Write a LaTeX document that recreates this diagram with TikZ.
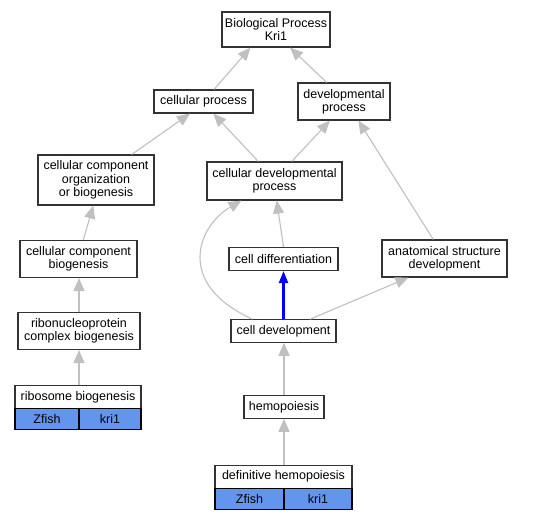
\documentclass[tikz,border=0pt]{standalone}
\usepackage{fontspec}
\setmainfont{Liberation Sans}
\usetikzlibrary{arrows.meta,calc}
\definecolor{edgegray}{HTML}{C0C0C0}
\definecolor{genefill}{HTML}{6495ED}
\definecolor{edgeblue}{HTML}{0000FF}
\tikzset{
  term/.style={draw=black!80, line width=1.1pt, fill=white, inner sep=0pt, align=center,
    font=\fontsize{12.5}{13.4}\selectfont},
  gene/.style={draw=black, line width=1.1pt, fill=genefill, inner sep=0pt,
    font=\fontsize{12.5}{13.4}\selectfont},
  isa/.style={color=edgegray, line width=1.1pt,
    -{Triangle[length=13pt,width=11pt]}},
  blueedge/.style={color=edgeblue, line width=2.2pt,
    -{Triangle[length=12pt,width=9pt]}},
}
\begin{document}
\begin{tikzpicture}[x=1pt,y=-1pt]
\useasboundingbox (0,0) rectangle (537,520);
\fill[white] (0,0) rectangle (537,520);
% terms
\node[term, minimum width=108pt, minimum height=35pt] (bp) at (276,29.5) {Biological Process\\Kri1};
\node[term, minimum width=99pt, minimum height=23pt] (cp) at (203.5,101.5) {cellular process};
\node[term, minimum width=92pt, minimum height=37pt] (dp) at (344,101.5) {developmental\\process};
\node[term, minimum width=116pt, minimum height=50pt] (cco) at (96,180) {cellular component\\organization\\or biogenesis};
\node[term, minimum width=135pt, minimum height=38pt] (cdp) at (274.5,181) {cellular developmental\\process};
\node[term, minimum width=117pt, minimum height=37pt] (ccb) at (78.5,259) {cellular component\\biogenesis};
\node[term, minimum width=109pt, minimum height=23pt] (cdiff) at (283.5,259) {cell differentiation};
\node[term, minimum width=125pt, minimum height=37pt] (asd) at (444.5,258.5) {anatomical structure\\development};
\node[term, minimum width=122pt, minimum height=37pt] (rnp) at (79,331) {ribonucleoprotein\\complex biogenesis};
\node[term, minimum width=105pt, minimum height=22.5pt] (cdev) at (283.5,331) {cell development};
\node[term, minimum width=80pt, minimum height=22.5pt] (hem) at (284,407) {hemopoiesis};
% gene tables
\node[term, minimum width=126pt, minimum height=23.5pt] (rb) at (78,396.8) {ribosome biogenesis};
\node[gene, minimum width=64pt, minimum height=20.5pt] (rbz) at (47,418.8) {Zfish};
\node[gene, minimum width=62pt, minimum height=20.5pt] (rbk) at (110,418.8) {kri1};
\node[term, minimum width=137pt, minimum height=23.3pt] (dh) at (283.5,476.7) {definitive hemopoiesis};
\node[gene, minimum width=69pt, minimum height=20.7pt] (dhz) at (249.5,498.7) {Zfish};
\node[gene, minimum width=68pt, minimum height=20.7pt] (dhk) at (318,498.7) {kri1};
% edges
\draw[isa] ($(cp.north)+(10.5,0)$) -- ($(bp.south)+(-25.5,0)$);
\draw[isa] ($(dp.north)+(-17.3,0)$) -- ($(bp.south)+(14,0)$);
\draw[isa] ($(cco.north)+(35.7,0)$) -- ($(cp.south)+(-13.5,0)$);
\draw[isa] ($(cdp.north)+(-16.2,0)$) -- ($(cp.south)+(9.8,0)$);
\draw[isa] ($(cdp.north)+(17.2,0)$) -- ($(dp.south)+(-14,0)$);
\draw[isa] ($(asd.north)+(-11.2,0)$) -- ($(dp.south)+(14.3,0)$);
\draw[isa] ($(ccb.north)+(4.8,0)$) -- ($(cco.south)+(-2.7,0)$);
\draw[isa] (cdiff.north) -- ($(cdp.south)+(2.2,0)$);
\draw[isa] ($(cdev.north)+(-31,0)$) .. controls (215,302) and (200,280) .. (200,257)
   .. controls (200,235) and (215,216) .. ($(cdp.south)+(-33,0)$);
\draw[blueedge] (cdev.north) -- (cdiff.south);
\draw[isa] ($(cdev.north)+(26.5,0)$) -- ($(asd.south)+(-36,0)$);
\draw[isa] (rnp.north) -- (ccb.south -| rnp.north);
\draw[isa] (rb.north -| rnp.south) -- (rnp.south);
\draw[isa] (hem.north) -- (cdev.south -| hem.north);
\draw[isa] (dh.north -| hem.south) -- (hem.south);
\end{tikzpicture}
\end{document}
